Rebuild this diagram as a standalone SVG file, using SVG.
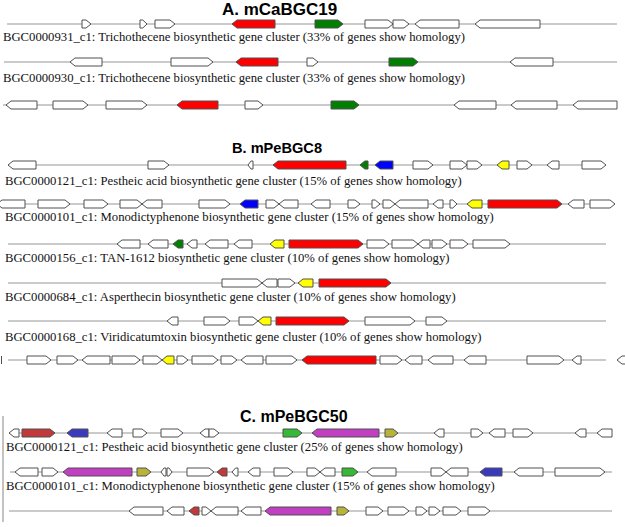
<svg xmlns="http://www.w3.org/2000/svg" width="625" height="527" viewBox="0 0 625 527">
<style>
.ln{stroke:#b9b9b9;stroke-width:1.5;fill:none}
.g{stroke:#505050;stroke-width:1;fill:#fff;stroke-linejoin:miter}
.red{fill:#ff0000}.grn{fill:#007f00}.blu{fill:#0000ff}.yel{fill:#ffff00}
.dr{fill:#c1393b}.cb{fill:#3a3abf}.cg{fill:#36b936}.mg{fill:#c13fc1}.ol{fill:#b8b43a}
.lbl{font-family:"Liberation Serif","Times New Roman",serif;font-size:12.7px;fill:#111}
.ttl{font-family:"Liberation Sans",Arial,sans-serif;font-weight:bold;fill:#000}
</style>
<rect width="625" height="527" fill="#fff"/>
<g id="titles">
<text class="ttl" x="222" y="15" font-size="17">A. mCaBGC19</text>
<text class="ttl" x="232" y="153" font-size="14.6">B. mPeBGC8</text>
<text class="ttl" x="240" y="422" font-size="16">C. mPeBGC50</text>
</g>
<g id="labels">
<text class="lbl" x="3" y="41">BGC0000931_c1: Trichothecene biosynthetic gene cluster (33% of genes show homology)</text>
<text class="lbl" x="3" y="82">BGC0000930_c1: Trichothecene biosynthetic gene cluster (33% of genes show homology)</text>
<text class="lbl" x="5" y="185">BGC0000121_c1: Pestheic acid biosynthetic gene cluster (15% of genes show homology)</text>
<text class="lbl" x="5" y="221">BGC0000101_c1: Monodictyphenone biosynthetic gene cluster (15% of genes show homology)</text>
<text class="lbl" x="5" y="262">BGC0000156_c1: TAN-1612 biosynthetic gene cluster (10% of genes show homology)</text>
<text class="lbl" x="5" y="301">BGC0000684_c1: Asperthecin biosynthetic gene cluster (10% of genes show homology)</text>
<text class="lbl" x="5" y="341">BGC0000168_c1: Viridicatumtoxin biosynthetic gene cluster (10% of genes show homology)</text>
<text class="lbl" x="6" y="451">BGC0000121_c1: Pestheic acid biosynthetic gene cluster (25% of genes show homology)</text>
<text class="lbl" x="6" y="490">BGC0000101_c1: Monodictyphenone biosynthetic gene cluster (15% of genes show homology)</text>
</g>
<g id="connectors">
<line class="ln" x1="7" y1="24" x2="617" y2="24"/>
<line class="ln" x1="4" y1="62" x2="617" y2="62"/>
<line class="ln" x1="3" y1="105" x2="617" y2="105"/>
<line class="ln" x1="8" y1="165" x2="606" y2="165"/>
<line class="ln" x1="0" y1="204" x2="615" y2="204"/>
<line class="ln" x1="8" y1="244" x2="606" y2="244"/>
<line class="ln" x1="8" y1="283" x2="606" y2="283"/>
<line class="ln" x1="8" y1="321" x2="606" y2="321"/>
<line class="ln" x1="8" y1="360" x2="606" y2="360"/>
<line class="ln" x1="9" y1="433" x2="612" y2="433"/>
<line class="ln" x1="10" y1="472" x2="612" y2="472"/>
<line class="ln" x1="9" y1="511" x2="612" y2="511"/>
<line x1="3" y1="416" x2="3" y2="522" stroke="#9a9a9a" stroke-width="1.2"/>
</g>
<g id="trackA1">
<polygon class="g" points="82,20 86,20 91,24 86,28 82,28"/>
<polygon class="g" points="140,20 142.8,20 147,24 142.8,28 140,28"/>
<polygon class="g" points="155,20 170,20 175,24 170,28 155,28"/>
<polygon class="g red" points="232,24 237,20 275,20 275,28 237,28"/>
<polygon class="g grn" points="315,20 338,20 343,24 338,28 315,28"/>
<polygon class="g" points="365,20 388,20 393,24 388,28 365,28"/>
<polygon class="g" points="393,20 404,20 409,24 404,28 393,28"/>
<polygon class="g" points="415,24 420,20 459,20 459,28 420,28"/>
<polygon class="g" points="475,24 480,20 540,20 540,28 480,28"/>
</g>
<g id="trackA2">
<polygon class="g" points="70,62 75,58 102,58 102,66 75,66"/>
<polygon class="g" points="171,58 208,58 213,62 208,66 171,66"/>
<polygon class="g red" points="236,62 241,58 278,58 278,66 241,66"/>
<polygon class="g" points="307,58 313,58 318,62 313,66 307,66"/>
<polygon class="g grn" points="389,58 413,58 418,62 413,66 389,66"/>
<polygon class="g" points="510,62 515,58 553,58 553,66 515,66"/>
</g>
<g id="trackA3">
<polygon class="g" points="6,105 11,101 37,101 37,109 11,109"/>
<polygon class="g" points="53,101 83,101 88,105 83,109 53,109"/>
<polygon class="g" points="106,101 142,101 147,105 142,109 106,109"/>
<polygon class="g red" points="177,105 182,101 218,101 218,109 182,109"/>
<polygon class="g" points="245,101 258,101 263,105 258,109 245,109"/>
<polygon class="g grn" points="331,101 354,101 359,105 354,109 331,109"/>
<polygon class="g" points="454,105 459,101 496,101 496,109 459,109"/>
<polygon class="g" points="511,105 516,101 557,101 557,109 516,109"/>
<polygon class="g" points="573,105 578,101 617,101 617,109 578,109"/>
</g>
<g id="trackB1">
<polygon class="g" points="8,165 13,161 36,161 36,169 13,169"/>
<polygon class="g" points="148,161 164,161 169,165 164,169 148,169"/>
<polygon class="g" points="248,165 251,161 253,161 253,169 251,169"/>
<polygon class="g red" points="273,165 278,161 346,161 346,169 278,169"/>
<polygon class="g grn" points="360,165 364.8,161 368,161 368,169 364.8,169"/>
<polygon class="g blu" points="375,165 380,161 393,161 393,169 380,169"/>
<polygon class="g" points="413,161 428,161 433,165 428,169 413,169"/>
<polygon class="g" points="450,161 462,161 467,165 462,169 450,169"/>
<polygon class="g" points="467,161 477,161 482,165 477,169 467,169"/>
<polygon class="g yel" points="497,165 502,161 509,161 509,169 502,169"/>
<polygon class="g" points="517,161 527,161 532,165 527,169 517,169"/>
<polygon class="g" points="547,165 552,161 559,161 559,169 552,169"/>
<polygon class="g" points="582,161 601,161 606,165 601,169 582,169"/>
</g>
<g id="trackB2">
<polygon class="g" points="-3,204 2,200 25,200 25,208 2,208"/>
<polygon class="g" points="38,200 65,200 70,204 65,208 38,208"/>
<polygon class="g" points="84,200 103,200 108,204 103,208 84,208"/>
<polygon class="g" points="120,200 137,200 142,204 137,208 120,208"/>
<polygon class="g" points="142,204 147,200 162,200 162,208 147,208"/>
<polygon class="g" points="199,200 225,200 230,204 225,208 199,208"/>
<polygon class="g blu" points="240,204 245,200 258,200 258,208 245,208"/>
<polygon class="g" points="266,200 274,200 279,204 274,208 266,208"/>
<polygon class="g" points="279,204 284,200 298,200 298,208 284,208"/>
<polygon class="g" points="311,204 316,200 330,200 330,208 316,208"/>
<polygon class="g" points="348,200 355,200 360,204 355,208 348,208"/>
<polygon class="g" points="372,200 375.2,200 380,204 375.2,208 372,208"/>
<polygon class="g" points="383,200 390,200 395,204 390,208 383,208"/>
<polygon class="g" points="395,204 400,200 428,200 428,208 400,208"/>
<polygon class="g" points="433,204 438,200 443,200 443,208 438,208"/>
<polygon class="g" points="450,200 452.8,200 457,204 452.8,208 450,208"/>
<polygon class="g yel" points="467,204 472,200 482,200 482,208 472,208"/>
<polygon class="g red" points="488,200 557,200 562,204 557,208 488,208"/>
<polygon class="g" points="568,204 573,200 584,200 584,208 573,208"/>
<polygon class="g" points="590,200 610,200 615,204 610,208 590,208"/>
</g>
<g id="trackB3">
<polygon class="g" points="117,244 122,240 140,240 140,248 122,248"/>
<polygon class="g" points="148,244 153,240 168,240 168,248 153,248"/>
<polygon class="g grn" points="173,244 178,240 183,240 183,248 178,248"/>
<polygon class="g" points="187,244 192,240 197,240 197,248 192,248"/>
<polygon class="g" points="205,244 210,240 228,240 228,248 210,248"/>
<polygon class="g" points="234,244 239,240 252,240 252,248 239,248"/>
<polygon class="g yel" points="270,244 275,240 284,240 284,248 275,248"/>
<polygon class="g red" points="289,240 358,240 363,244 358,248 289,248"/>
<polygon class="g" points="367,240 384,240 389,244 384,248 367,248"/>
<polygon class="g" points="392,240 413,240 418,244 413,248 392,248"/>
<polygon class="g" points="418,244 423,240 430,240 430,248 423,248"/>
<polygon class="g" points="432,240 442,240 447,244 442,248 432,248"/>
<polygon class="g" points="450,240 463,240 468,244 463,248 450,248"/>
<polygon class="g" points="473,240 505,240 510,244 505,248 473,248"/>
</g>
<g id="trackB4">
<polygon class="g" points="222,279 257,279 262,283 257,287 222,287"/>
<polygon class="g" points="262,283 267,279 277,279 277,287 267,287"/>
<polygon class="g" points="278,279 290,279 295,283 290,287 278,287"/>
<polygon class="g yel" points="298,283 303,279 313,279 313,287 303,287"/>
<polygon class="g red" points="319,279 386,279 391,283 386,287 319,287"/>
</g>
<g id="trackB5">
<polygon class="g" points="167,321 172,317 178,317 178,325 172,325"/>
<polygon class="g" points="204,317 225,317 230,321 225,325 204,325"/>
<polygon class="g" points="239,317 253,317 258,321 253,325 239,325"/>
<polygon class="g yel" points="258,321 263,317 271,317 271,325 263,325"/>
<polygon class="g red" points="276,317 344,317 349,321 344,325 276,325"/>
<polygon class="g" points="365,317 410,317 415,321 410,325 365,325"/>
<polygon class="g" points="426,317 442,317 447,321 442,325 426,325"/>
</g>
<g id="trackB6">
<line x1="1.5" y1="356" x2="1.5" y2="364" stroke="#505050" stroke-width="1"/>
<polygon class="g" points="27,356 46,356 51,360 46,364 27,364"/>
<polygon class="g" points="57,356 73,356 78,360 73,364 57,364"/>
<polygon class="g" points="82,360 87,356 110,356 110,364 87,364"/>
<polygon class="g" points="112,356 135,356 140,360 135,364 112,364"/>
<polygon class="g" points="143,356 157,356 162,360 157,364 143,364"/>
<polygon class="g yel" points="162,360 167,356 174,356 174,364 167,364"/>
<polygon class="g" points="177,356 183,356 188,360 183,364 177,364"/>
<polygon class="g" points="192,356 213,356 218,360 213,364 192,364"/>
<polygon class="g" points="221,356 232,356 237,360 232,364 221,364"/>
<polygon class="g" points="241,360 246,356 263,356 263,364 246,364"/>
<polygon class="g" points="266,356 292,356 297,360 292,364 266,364"/>
<polygon class="g red" points="302,360 307,356 376,356 376,364 307,364"/>
<polygon class="g" points="380,356 397,356 402,360 397,364 380,364"/>
<polygon class="g" points="405,360 410,356 422,356 422,364 410,364"/>
<polygon class="g" points="428,360 433,356 453,356 453,364 433,364"/>
<polygon class="g" points="464,360 469,356 486,356 486,364 469,364"/>
<polygon class="g" points="527,356 559,356 564,360 559,364 527,364"/>
<polygon class="g" points="572,360 577,356 581,356 581,364 577,364"/>
<polygon class="g" points="617,360 622,356 630,356 630,364 622,364"/>
</g>
<g id="trackC1">
<polygon class="g" points="9,433 14,429 19,429 19,437 14,437"/>
<polygon class="g dr" points="22,429 50,429 55,433 50,437 22,437"/>
<polygon class="g cb" points="67,433 72,429 88,429 88,437 72,437"/>
<polygon class="g" points="107,433 112,429 122,429 122,437 112,437"/>
<polygon class="g" points="133,429 142,429 147,433 142,437 133,437"/>
<polygon class="g" points="161,429 178,429 183,433 178,437 161,437"/>
<polygon class="g" points="200,433 205,429 209,429 209,437 205,437"/>
<polygon class="g" points="209,429 214,429 219,433 214,437 209,437"/>
<polygon class="g cg" points="283,429 297,429 302,433 297,437 283,437"/>
<polygon class="g mg" points="312,433 317,429 379,429 379,437 317,437"/>
<polygon class="g ol" points="385,429 393,429 398,433 393,437 385,437"/>
<polygon class="g" points="434,433 439,429 444,429 444,437 439,437"/>
<polygon class="g" points="471,429 478,429 483,433 478,437 471,437"/>
<polygon class="g" points="489,433 494,429 505,429 505,437 494,437"/>
<polygon class="g" points="513,429 528,429 533,433 528,437 513,437"/>
<polygon class="g" points="575,433 580,429 586,429 586,437 580,437"/>
<polygon class="g" points="597,433 602,429 612,429 612,437 602,437"/>
</g>
<g id="trackC2">
<polygon class="g" points="15,472 20,468 38,468 38,476 20,476"/>
<polygon class="g" points="42,468 53,468 58,472 53,476 42,476"/>
<polygon class="g mg" points="63,472 68,468 132,468 132,476 68,476"/>
<polygon class="g ol" points="137,468 146,468 151,472 146,476 137,476"/>
<polygon class="g" points="161,472 164,468 166,468 166,476 164,476"/>
<polygon class="g" points="167,468 169,468 172,472 169,476 167,476"/>
<polygon class="g" points="187,468 209,468 214,472 209,476 187,476"/>
<polygon class="g dr" points="217,472 222,468 227,468 227,476 222,476"/>
<polygon class="g" points="232,472 235.6,468 238,468 238,476 235.6,476"/>
<polygon class="g" points="248,472 253,468 260,468 260,476 253,476"/>
<polygon class="g" points="274,468 288,468 293,472 288,476 274,476"/>
<polygon class="g" points="307,468 315,468 320,472 315,476 307,476"/>
<polygon class="g" points="320,472 325,468 335,468 335,476 325,476"/>
<polygon class="g cg" points="342,468 353,468 358,472 353,476 342,476"/>
<polygon class="g" points="367,472 372,468 396,468 396,476 372,476"/>
<polygon class="g" points="431,468 441,468 446,472 441,476 431,476"/>
<polygon class="g" points="446,472 451,468 468,468 468,476 451,476"/>
<polygon class="g cb" points="480,472 485,468 502,468 502,476 485,476"/>
<polygon class="g" points="514,472 519,468 543,468 543,476 519,476"/>
<polygon class="g" points="555,468 600,468 605,472 600,476 555,476"/>
</g>
<g id="trackC3">
<polygon class="g" points="129,511 134,507 163,507 163,515 134,515"/>
<polygon class="g" points="167,511 172,507 184,507 184,515 172,515"/>
<polygon class="g dr" points="189,511 194,507 199,507 199,515 194,515"/>
<polygon class="g" points="202,507 206,507 211,511 206,515 202,515"/>
<polygon class="g" points="211,511 216,507 238,507 238,515 216,515"/>
<polygon class="g" points="241,511 246,507 261,507 261,515 246,515"/>
<polygon class="g mg" points="265,511 270,507 331,507 331,515 270,515"/>
<polygon class="g ol" points="337,507 344,507 349,511 344,515 337,515"/>
<polygon class="g" points="366,507 378,507 383,511 378,515 366,515"/>
<polygon class="g" points="388,507 404,507 409,511 404,515 388,515"/>
<polygon class="g" points="416,507 422,507 427,511 422,515 416,515"/>
<polygon class="g" points="429,507 435,507 440,511 435,515 429,515"/>
<polygon class="g" points="443,507 456,507 461,511 456,515 443,515"/>
<polygon class="g" points="468,507 485,507 490,511 485,515 468,515"/>
</g>
</svg>
